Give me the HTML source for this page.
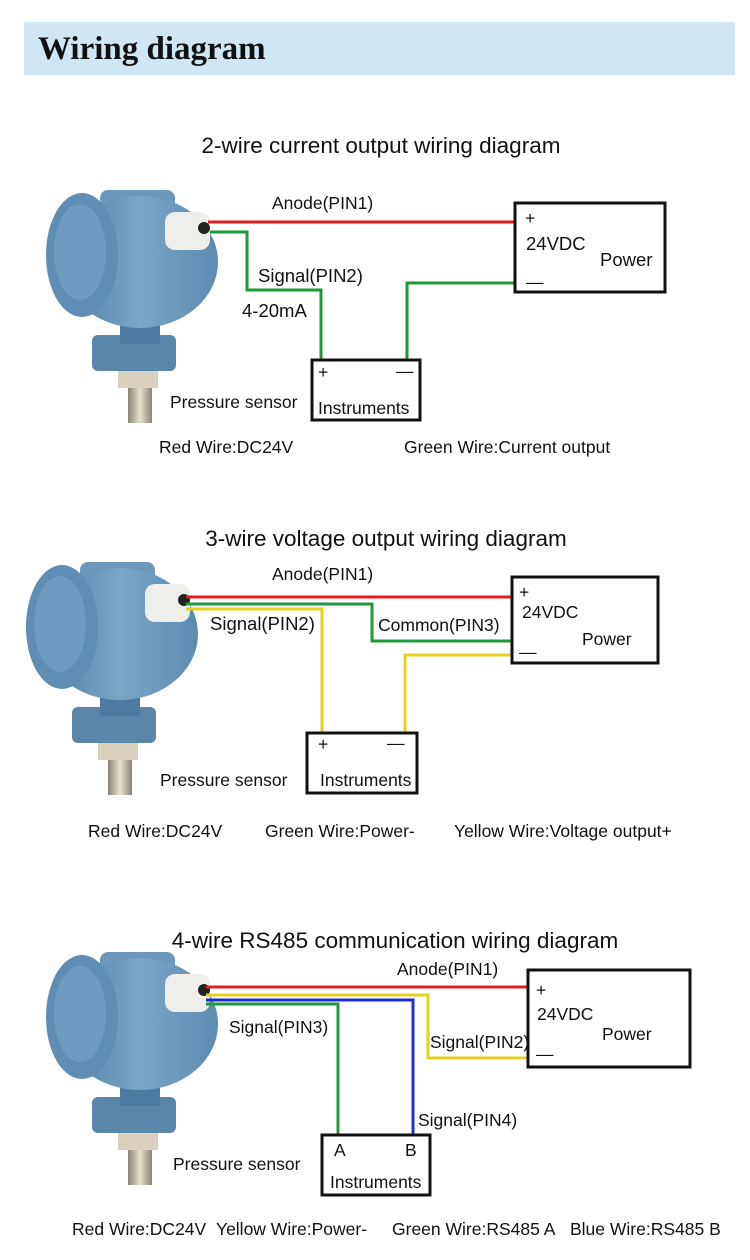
<!DOCTYPE html>
<html><head><meta charset="utf-8"><style>
body{margin:0;background:#fff;}
svg{display:block}
text{font-family:"Liberation Sans",sans-serif;fill:#111}
</style></head><body>
<svg width="750" height="1260" viewBox="0 0 750 1260" xmlns="http://www.w3.org/2000/svg">
<defs>
<linearGradient id="bg" x1="0" x2="1" y1="0" y2="0"><stop offset="0" stop-color="#4f7ea3"/><stop offset=".5" stop-color="#7aa6c7"/><stop offset="1" stop-color="#5d8bb0"/></linearGradient>
<linearGradient id="mg" x1="0" x2="1"><stop offset="0" stop-color="#8a8577"/><stop offset=".5" stop-color="#e6e0cf"/><stop offset="1" stop-color="#8a8577"/></linearGradient>
<g id="sensor">
 <rect x="128" y="385" width="24" height="38" fill="url(#mg)"/>
 <rect x="118" y="368" width="40" height="20" fill="#d9d1bd"/>
 <rect x="92" y="335" width="84" height="36" rx="6" fill="#5a86aa"/>
 <rect x="120" y="312" width="40" height="32" fill="#4d7aa0"/>
 <rect x="100" y="190" width="75" height="30" rx="8" fill="#6c98bb"/>
 <ellipse cx="140" cy="262" rx="78" ry="66" fill="url(#bg)"/>
 <ellipse cx="82" cy="255" rx="36" ry="62" fill="#5f8db3"/>
 <ellipse cx="80" cy="252" rx="26" ry="48" fill="#6e9bbf"/>
 <rect x="165" y="212" width="45" height="38" rx="10" fill="#eeeeea"/>
 <circle cx="204" cy="228" r="6" fill="#222"/>
</g>
</defs>
<rect x="24" y="22" width="711" height="53" fill="#cfe6f5"/>
<text x="38" y="59" style="font-family:'Liberation Serif',serif;font-weight:bold;font-size:33px">Wiring diagram</text>

<g font-size="17.5">
<!-- Diagram 1 -->
<text x="381" y="153" font-size="22.5" text-anchor="middle">2-wire current output wiring diagram</text>
<use href="#sensor"/>
<g fill="none" stroke-width="3">
<polyline points="208,222 515,222" stroke="#e31b1b"/>
<polyline points="210,232 247,232 247,290 321,290 321,360" stroke="#1e9a3a"/>
<polyline points="407,360 407,283 515,283" stroke="#1e9a3a"/>
<rect x="515" y="203" width="150" height="89" stroke="#111"/>
<rect x="312" y="360" width="108" height="60" stroke="#111"/>
</g>
<text x="272" y="209">Anode(PIN1)</text>
<text x="258" y="282" font-size="18.5">Signal(PIN2)</text>
<text x="242" y="317" font-size="18.5">4-20mA</text>
<text x="525" y="224">+</text>
<text x="526" y="250" font-size="18.5">24VDC</text>
<text x="600" y="266" font-size="18.5">Power</text>
<text x="526" y="288">—</text>
<text x="318" y="378">+</text>
<text x="396" y="377">—</text>
<text x="318" y="414">Instruments</text>
<text x="170" y="408">Pressure sensor</text>
<text x="159" y="453">Red Wire:DC24V</text>
<text x="404" y="453">Green Wire:Current output</text>

<!-- Diagram 2 -->
<text x="386" y="546" font-size="22.5" text-anchor="middle">3-wire voltage output wiring diagram</text>
<use href="#sensor" transform="translate(-20,372)"/>
<g fill="none" stroke-width="3">
<polyline points="186,597 512,597" stroke="#e31b1b"/>
<polyline points="186,604 372,604 372,641 512,641" stroke="#1e9a3a"/>
<polyline points="186,609 322,609 322,733" stroke="#e5d21c"/>
<polyline points="405,733 405,655 512,655" stroke="#e5d21c"/>
<rect x="512" y="577" width="146" height="86" stroke="#111"/>
<rect x="307" y="733" width="110" height="60" stroke="#111"/>
</g>
<text x="272" y="580">Anode(PIN1)</text>
<text x="210" y="630" font-size="18.5">Signal(PIN2)</text>
<text x="378" y="631">Common(PIN3)</text>
<text x="519" y="598">+</text>
<text x="522" y="618">24VDC</text>
<text x="582" y="645">Power</text>
<text x="519" y="658">—</text>
<text x="318" y="750">+</text>
<text x="387" y="749">—</text>
<text x="320" y="786">Instruments</text>
<text x="160" y="786">Pressure sensor</text>
<text x="88" y="837">Red Wire:DC24V</text>
<text x="265" y="837">Green Wire:Power-</text>
<text x="454" y="837">Yellow Wire:Voltage output+</text>

<!-- Diagram 3 -->
<text x="395" y="948" font-size="22.5" text-anchor="middle">4-wire RS485 communication wiring diagram</text>
<use href="#sensor" transform="translate(0,762)"/>
<g fill="none" stroke-width="3">
<polyline points="206,987 528,987" stroke="#e31b1b"/>
<polyline points="206,995 428,995 428,1058 528,1058" stroke="#e5d21c"/>
<polyline points="206,1000 413,1000 413,1135" stroke="#1f2bd6"/>
<polyline points="206,1004 338,1004 338,1135" stroke="#1e9a3a"/>
<rect x="528" y="970" width="162" height="97" stroke="#111"/>
<rect x="322" y="1135" width="108" height="60" stroke="#111"/>
</g>
<text x="397" y="975">Anode(PIN1)</text>
<text x="229" y="1033">Signal(PIN3)</text>
<text x="430" y="1048">Signal(PIN2)</text>
<text x="418" y="1126">Signal(PIN4)</text>
<text x="536" y="996">+</text>
<text x="537" y="1020">24VDC</text>
<text x="602" y="1040">Power</text>
<text x="536" y="1060">—</text>
<text x="334" y="1156">A</text>
<text x="405" y="1156">B</text>
<text x="330" y="1188">Instruments</text>
<text x="173" y="1170">Pressure sensor</text>
<text x="72" y="1235">Red Wire:DC24V</text>
<text x="216" y="1235">Yellow Wire:Power-</text>
<text x="392" y="1235">Green Wire:RS485 A</text>
<text x="570" y="1235">Blue Wire:RS485 B</text>
</g>
</svg>
</body></html>
